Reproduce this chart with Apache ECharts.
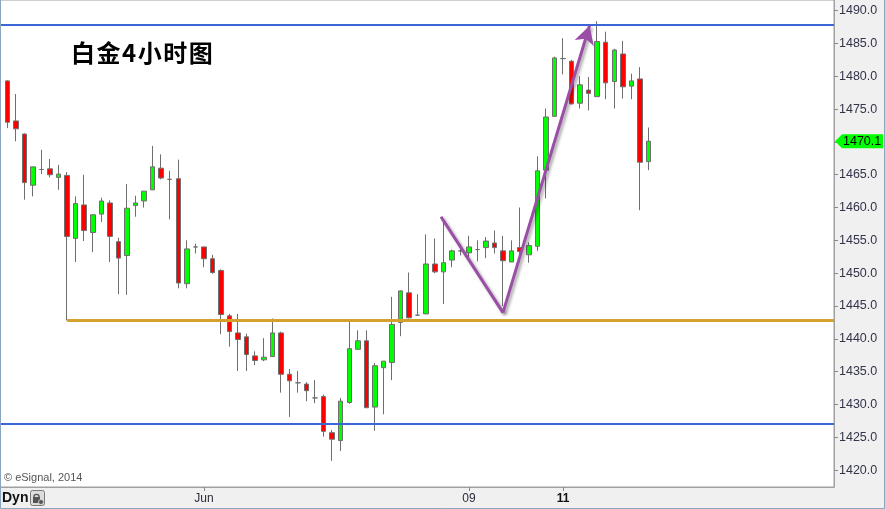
<!DOCTYPE html>
<html><head><meta charset="utf-8">
<script src="https://cdn.jsdelivr.net/npm/echarts@6/dist/echarts.min.js"></script>
<style>html,body{margin:0;padding:0;background:#f0f0f0}#c{width:885px;height:509px}</style>
</head><body><div id="c"></div>
<script>
// ---- data (4-hour candles, platinum) ----
const opens  = [1479.3,1473.2,1471.2,1463.4,1465.8,1465.9,1464.6,1464.9,1455.3,1460.4,1456.2,1459.0,1460.7,1454.8,1452.7,1460.3,1461.0,1462.7,1466.0,1464.3,
                1464.4,1448.4,1454.0,1454.0,1452.2,1450.4,1443.5,1440.9,1440.3,1437.4,1436.8,1437.3,1440.9,1434.6,1433.3,1433.1,1431.0,1431.2,1425.7,1424.5,
                1430.3,1438.4,1439.7,1429.6,1435.6,1436.4,1442.5,1447.0,1443.6,1443.8,1451.4,1450.2,1452.0,1453.4,1453.1,1453.6,1453.9,1454.6,1453.4,1451.7,
                1453.9,1452.8,1454.1,1465.7,1473.9,1482.7,1482.3,1475.9,1477.9,1476.9,1485.2,1479.2,1483.4,1478.5,1479.6,1467.0];
const closes = [1473.0,1472.0,1463.8,1466.2,1465.8,1465.0,1465.1,1455.6,1460.6,1456.5,1458.9,1461.0,1455.6,1452.3,1459.9,1460.7,1462.5,1466.2,1464.5,1464.3,
                1448.5,1453.7,1454.0,1452.2,1450.1,1443.7,1441.1,1439.9,1437.6,1436.7,1437.2,1440.9,1434.6,1433.6,1433.3,1432.1,1431.0,1425.9,1424.7,1430.5,
                1438.5,1439.7,1429.5,1435.9,1436.6,1442.2,1447.3,1443.2,1443.6,1451.4,1450.2,1451.6,1453.4,1453.4,1454.0,1453.6,1454.9,1453.9,1451.9,1453.4,
                1453.3,1454.2,1465.6,1473.8,1482.8,1482.7,1475.8,1478.7,1477.4,1485.3,1479.0,1484.0,1478.4,1479.3,1466.9,1470.1];
const lows   = [1472.1,1470.1,1461.2,1461.7,1465.1,1464.6,1462.7,1442.8,1451.7,1454.9,1453.2,1457.8,1451.7,1446.8,1446.7,1458.6,1460.0,1462.7,1464.3,1458.2,
                1447.7,1447.7,1453.0,1450.9,1449.9,1440.7,1438.8,1435.1,1435.1,1436.0,1436.6,1437.3,1431.8,1428.1,1431.8,1430.5,1430.2,1425.1,1421.4,1422.9,
                1430.1,1438.3,1429.5,1426.0,1428.5,1433.7,1440.4,1443.1,1443.5,1443.8,1450.0,1445.3,1450.9,1452.7,1452.3,1451.8,1452.3,1453.0,1445.0,1451.7,
                1452.8,1451.6,1453.4,1461.4,1473.9,1480.3,1475.7,1475.1,1474.8,1476.9,1476.5,1475.1,1476.6,1476.5,1459.6,1465.7];
const highs  = [1479.4,1477.3,1471.3,1466.2,1468.8,1467.4,1466.5,1465.4,1461.7,1465.0,1459.0,1461.5,1461.1,1455.4,1463.6,1461.8,1462.5,1469.4,1468.1,1465.6,
                1467.3,1455.0,1454.5,1454.0,1452.8,1450.6,1443.8,1443.8,1440.8,1438.1,1440.1,1443.1,1441.1,1435.4,1435.1,1433.4,1433.7,1431.5,1426.1,1431.0,
                1442.8,1441.3,1441.3,1436.3,1436.6,1446.4,1447.4,1450.1,1446.8,1455.9,1455.3,1458.0,1453.6,1454.4,1455.7,1455.0,1455.5,1456.5,1455.7,1455.0,
                1460.0,1454.7,1467.8,1475.1,1483.0,1485.8,1482.5,1480.0,1479.9,1488.4,1486.8,1484.2,1485.4,1480.4,1481.4,1472.2];

const yTicks = [1420,1425,1430,1435,1440,1445,1450,1455,1460,1465,1470,1475,1480,1485,1490];
const xTickIdx = [23, 54, 65];
const xTickLabels = ['Jun', '09', '11'];

const blueLevels = [1487.9, 1427.0];
const supportLevel = 1442.8;
const supportStartIdx = 7;
const trendX = [50.73, 57.98, 68.1];
const trendY = [1458.6, 1444.0, 1487.7];

const titleText = '白\u200A金\u200A4\u200A小\u200A时\u200A图';
const creditText = '© eSignal, 2014';

// ---- chart ----
const chart = echarts.init(document.getElementById('c'));
const candles = opens.map((o, i) => [i, o, closes[i], lows[i], highs[i]]);
const X_MIN = -0.854, X_MAX = 96.70;

const purple = {color: '#9a4ea6', width: 3, type: 'solid',
  shadowBlur: 3, shadowColor: 'rgba(0,0,0,0.35)', shadowOffsetX: 2, shadowOffsetY: 2};

const option = {
  animation: false,
  backgroundColor: '#f0f0f0',
  title: {
    text: titleText, left: 66, top: 36,
    textStyle: {fontFamily: 'Noto Sans CJK SC', fontWeight: 'bold', fontSize: 24, color: '#000'}
  },
  grid: {left: 0, right: 51, top: -1, bottom: 22, show: true, backgroundColor: '#ffffff',
         borderColor: '#a0a0a0', borderWidth: 1},
  xAxis: {
    type: 'value', min: X_MIN, max: X_MAX, position: 'bottom',
    axisLine: {show: true, onZero: false, lineStyle: {color: '#a0a0a0'}},
    axisTick: {show: true, customValues: xTickIdx, length: 4, lineStyle: {color: '#888'}},
    axisLabel: {
      customValues: xTickIdx, margin: 6, color: '#2b2b3b', fontSize: 12, fontFamily: 'Liberation Sans',
      formatter: v => {
        const k = xTickIdx.indexOf(Math.round(v));
        if (k < 0) return '';
        return k === xTickIdx.length - 1 ? '{b|' + xTickLabels[k] + '}' : xTickLabels[k];
      },
      rich: {b: {fontWeight: 'bold', fontSize: 12, color: '#111', fontFamily: 'Liberation Sans'}}
    },
    splitLine: {show: false}
  },
  yAxis: {
    type: 'value', position: 'right', min: 1417.42, max: 1491.627, scale: true,
    axisLine: {show: true, onZero: false, lineStyle: {color: '#a0a0a0'}},
    axisTick: {show: true, customValues: yTicks, length: 4, lineStyle: {color: '#888'}},
    axisLabel: {customValues: yTicks, margin: 5, color: '#33334a', fontSize: 12.5, fontFamily: 'Liberation Sans',
      formatter: v => v.toFixed(1)},
    splitLine: {show: false}
  },
  series: [{
    type: 'candlestick',
    data: candles,
    encode: {x: 0, y: [1, 2, 3, 4]},
    barWidth: 5,
    itemStyle: {color: '#00ff00', color0: '#ff0000', borderColor: '#6e6e6e', borderColor0: '#6e6e6e',
                borderColorDoji: '#6e6e6e', borderWidth: 1},
    markLine: {
      silent: true, symbol: 'none', label: {show: false}, animation: false,
      data: [
        {yAxis: blueLevels[0], lineStyle: {color: '#3b66d6', width: 2, type: 'solid'}},
        {yAxis: blueLevels[1], lineStyle: {color: '#3b66d6', width: 2, type: 'solid'}},
        [{coord: [supportStartIdx, supportLevel], lineStyle: {color: '#d4a22c', width: 3, type: 'solid'}},
         {coord: [X_MAX, supportLevel]}],
        [{coord: [trendX[0], trendY[0]], symbol: 'none', lineStyle: purple},
         {coord: [trendX[1], trendY[1]], symbol: 'none'}],
        [{coord: [trendX[1], trendY[1]], symbol: 'none', lineStyle: purple},
         {coord: [trendX[2], trendY[2]], symbol: 'arrow', symbolSize: [15, 18], itemStyle: {color: '#9a4ea6'}}]
      ]
    }
  }]
};
chart.setOption(option);

// price tag + decorations
const lastClose = closes[closes.length - 1];
const ty = chart.convertToPixel({yAxisIndex: 0}, lastClose);
chart.setOption({
  graphic: [
    {type: 'polygon', shape: {points: [[835, ty], [842, ty - 7], [883, ty - 7], [883, ty + 7], [842, ty + 7]]},
     style: {fill: '#00ff00'}, z: 100},
    {type: 'text', x: 843, y: ty, style: {text: lastClose.toFixed(1), fill: '#000', font: '12.5px "Liberation Sans"',
     verticalAlign: 'middle'}, z: 101},
    {type: 'text', x: 4, y: 478, style: {text: creditText, fill: '#555', font: '11px "Liberation Sans"', verticalAlign: 'middle'}, z: 100},
    {type: 'text', x: 2, y: 498, style: {text: 'Dyn', fill: '#111', font: 'bold 14px "Liberation Sans"', verticalAlign: 'middle'}, z: 100},
    {type: 'rect', shape: {x: 30.5, y: 490.5, width: 14, height: 15, r: 2}, style: {fill: '#dcdcdc', stroke: '#7a7a7a', lineWidth: 1}, z: 100},
    {type: 'rect', shape: {x: 33, y: 497, width: 7, height: 6}, style: {fill: '#555'}, z: 101},
    {type: 'arc', shape: {cx: 36.5, cy: 497, r: 2.6, startAngle: Math.PI, endAngle: 0}, style: {stroke: '#555', fill: 'none', lineWidth: 1.3}, z: 101},
    {type: 'circle', shape: {cx: 41, cy: 502, r: 2.5}, style: {fill: '#555', stroke: '#dcdcdc', lineWidth: 0.8}, z: 102},
    {type: 'polyline', shape: {points: [[0.5, 0], [0.5, 508.5], [884.5, 508.5], [884.5, 0]]},
     style: {stroke: '#8ba5c1', lineWidth: 1, fill: 'none'}, z: 110}
  ]
});
</script></body></html>
